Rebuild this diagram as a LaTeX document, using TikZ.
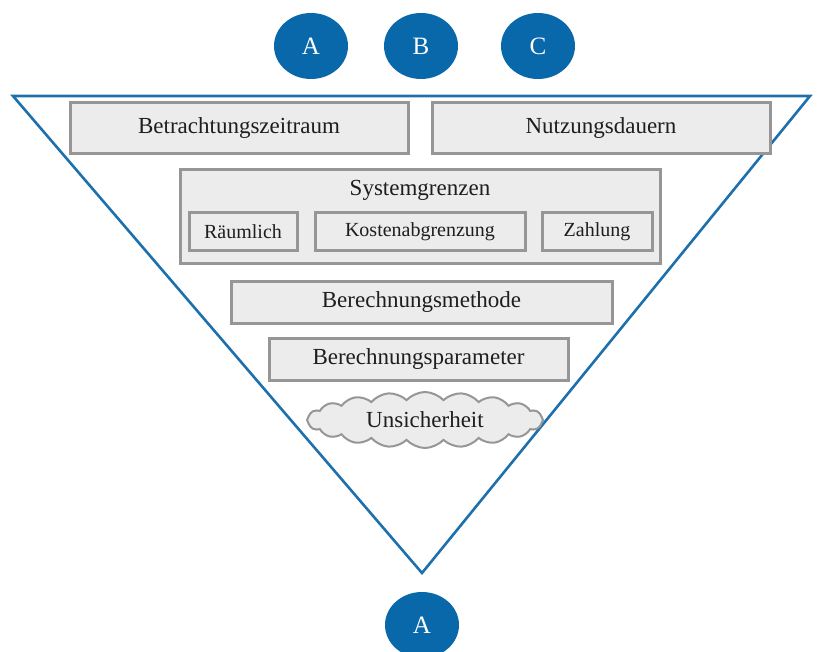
\documentclass[tikz,border=0pt]{standalone}
\usepackage{fontspec}
\setmainfont{Liberation Serif}
\usetikzlibrary{shapes.symbols,shapes.geometric}
\definecolor{myblue}{RGB}{8,104,170}
\definecolor{triblue}{RGB}{30,112,172}
\definecolor{boxfill}{RGB}{236,236,236}
\definecolor{boxline}{RGB}{150,150,150}
\definecolor{txt}{RGB}{30,30,30}
\tikzset{
  bigtxt/.style={font=\fontsize{23}{27}\selectfont, text=txt},
  smalltxt/.style={font=\fontsize{20}{24}\selectfont, text=txt},
  box/.style={draw=boxline, fill=boxfill, line width=3pt, inner sep=0pt, rectangle},
  circ/.style={ellipse, fill=myblue, text=white, font=\fontsize{25}{29}\selectfont, minimum width=74, minimum height=66, inner sep=0pt},
  tri/.style={draw=triblue, line width=2.6pt, line join=miter},
  cloudbox/.style={cloud, cloud puffs=20, cloud puff arc=95, aspect=4.2, draw=boxline, fill=boxfill, line width=2pt, minimum width=236, minimum height=56, inner sep=0pt}
}
\begin{document}
\begin{tikzpicture}[x=1pt,y=-1pt]
\useasboundingbox (0,0) rectangle (818,652);
\coordinate (tl) at (13,96);
\coordinate (tr) at (810,96);
\coordinate (bt) at (422,573);
\draw[tri] (tl) -- (tr) -- (bt) -- cycle;

\node[circ] (ca) at (311,46) {A};
\node[circ] (cb) at (421,46) {B};
\node[circ] (cc) at (538,46) {C};
\node[circ] (cd) at (422,625) {A};

\node[box, bigtxt, minimum width=338, minimum height=51] (bz) at (239,128.5) {Betrachtungszeitraum};
\node[box, bigtxt, minimum width=338, minimum height=51] (nd) at (601,128.5) {Nutzungsdauern};

\node[box, minimum width=480, minimum height=93] (sg) at (420,216.5) {};
\node[bigtxt] (sgt) at (420,190) {Systemgrenzen};
\node[box, smalltxt, minimum width=108, minimum height=37] (rl) at (243,231.5) {Räumlich};
\node[box, smalltxt, minimum width=210, minimum height=37] (ka) at (420,231.5) {Kostenabgrenzung};
\node[box, smalltxt, minimum width=110, minimum height=37] (za) at (597,231.5) {Zahlung};

\node[box, bigtxt, minimum width=381, minimum height=42] (bm) at (421.5,302) {Berechnungsmethode};
\node[box, bigtxt, minimum width=299, minimum height=42] (bp) at (418.5,359) {Berechnungsparameter};

\node[cloudbox, bigtxt] (us) at (425,420) {Unsicherheit};
\end{tikzpicture}
\end{document}
